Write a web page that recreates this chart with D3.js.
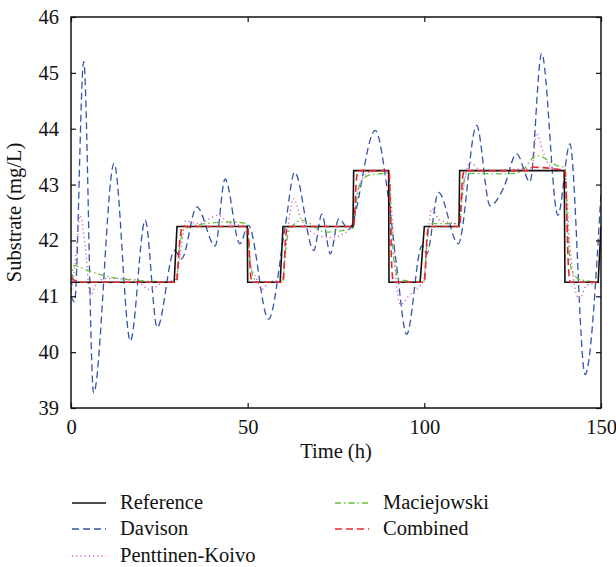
<!DOCTYPE html>
<html>
<head>
<meta charset="utf-8">
<script src="https://cdn.jsdelivr.net/npm/d3@7"></script>
<style>
  body { margin: 0; background: #fff; }
</style>
</head>
<body>
<svg id="chart" width="616" height="567" font-family="'Liberation Serif', serif"></svg>
<script>
// values: [time (h), substrate (mg/L)]
const reference = [[0,41.25],[29.2,41.25],[30,42.25],[49.9,42.25],[50,41.25],[59.2,41.25],[60,42.25],
  [79.8,42.25],[80,43.25],[89.9,43.25],[90,41.25],[98.8,41.25],[100,42.25],[109.8,42.25],[110,43.25],
  [139.6,43.25],[139.8,41.25],[149.2,41.25],[150,42.25]];

const davison = [[0,41.0],[1,40.9],[3.6,45.2],[6.4,39.27],[12.2,43.38],[16.8,40.2],[21.0,42.36],[24.4,40.44],
  [29.3,41.82],[31.3,41.67],[35.6,42.6],[40.8,41.9],[43.6,43.1],[47.8,41.94],[50.2,42.27],[55.9,40.59],
  [60.6,42.24],[63.3,43.22],[68.7,41.82],[71.0,42.47],[73.4,41.76],[75.8,42.39],[78.6,42.2],[86.1,43.97],
  [89.8,42.77],[92.2,41.52],[95.0,40.32],[99.3,41.9],[100.7,41.76],[104.0,42.86],[109.6,41.94],[114.8,44.06],
  [118.6,42.62],[122.5,42.95],[126.1,43.55],[129.9,43.05],[133.2,45.35],[137.8,42.45],[141.2,43.73],
  [145.5,39.6],[150,42.85]];

const penttinen = [[0,41.05],[1.2,41.6],[2.6,42.45],[4.0,41.9],[5.5,41.0],[7,41.2],[10,41.32],[18,41.3],
  [22.3,41.12],[26,41.25],[29.5,41.3],[31,41.8],[32.5,42.35],[36,42.3],[41.7,42.45],[45,42.3],[49.8,42.25],
  [50.7,41.6],[52.6,41.3],[54,41.12],[56,41.25],[59.8,41.3],[61.2,42.1],[63.0,42.75],[65,42.4],[67.3,42.18],
  [73.4,42.05],[79.8,42.25],[81,42.85],[84.3,43.22],[88,43.25],[89.9,43.2],[90.8,42.5],[92.2,41.16],
  [93.3,40.85],[95.5,41.0],[99.8,41.3],[101,42.1],[102.1,42.57],[104.4,42.36],[109.8,42.3],[111,42.9],
  [112.9,43.4],[116,43.25],[130.4,43.3],[131.8,43.92],[133.5,43.6],[136,43.3],[139.7,43.25],[141.2,41.9],
  [143.8,40.95],[146,41.2],[150,41.25]];

const maciejowski = [[0,41.05],[0.8,41.55],[4,41.48],[11.4,41.34],[20,41.28],[29.8,41.25],[30.8,41.9],
  [32,42.2],[36,42.28],[45,42.33],[49.9,42.3],[50.6,41.7],[51.6,41.35],[53,41.25],[59.8,41.25],[60.8,41.9],
  [62,42.2],[65.4,42.36],[72,42.15],[79.8,42.22],[80.8,42.7],[82,43.05],[85,43.18],[89.9,43.2],[90.6,42.3],
  [91.5,41.6],[93,41.3],[99.8,41.25],[100.8,42.0],[102,42.3],[109.8,42.3],[110.8,42.9],[112,43.2],
  [122,43.19],[127,43.22],[131.8,43.52],[137.5,43.34],[139.8,43.3],[140.5,42.3],[141.7,41.46],[144,41.3],
  [150,41.25]];

const combined = [[0,41.35],[2,41.25],[29.8,41.25],[30.8,42.0],[31.5,42.25],[50,42.25],[50.8,41.4],
  [51.3,41.25],[60,41.25],[60.8,42.1],[61.3,42.25],[80,42.25],[80.8,43.1],[81.3,43.25],[90,43.25],
  [90.8,41.5],[91.3,41.25],[100,41.25],[100.8,42.1],[101.3,42.25],[110,42.25],[110.8,43.1],[111.3,43.25],
  [129,43.25],[130.3,43.31],[139.8,43.25],[140.8,41.5],[141.3,41.25],[150,41.25]];

const xTicks = [0, 50, 100, 150];
const yTicks = [39, 40, 41, 42, 43, 44, 45, 46];

const series = [
  {name: "Reference", data: reference, color: "#111111", dash: null, width: 1.6, curve: d3.curveLinear},
  {name: "Davison", data: davison, color: "#3156ad", dash: "7,4", width: 1.3, curve: d3.curveMonotoneX},
  {name: "Penttinen-Koivo", data: penttinen, color: "#cc5fc2", dash: "1.2,3", width: 1.4, curve: d3.curveMonotoneX},
  {name: "Maciejowski", data: maciejowski, color: "#6cbf3c", dash: "6,3,1.5,3", width: 1.3, curve: d3.curveMonotoneX},
  {name: "Combined", data: combined, color: "#e8262a", dash: "7,4", width: 1.6, curve: d3.curveMonotoneX}
];

const FONT = "'Liberation Serif', serif", FS = "20.5px";

const svg = d3.select("#chart");
const m = {left: 71, right: 15, top: 17, bottom: 159};
const W = 616 - m.left - m.right, H = 567 - m.top - m.bottom;

const x = d3.scaleLinear().domain([0, 150]).range([0, W]);
const y = d3.scaleLinear().domain([39, 46]).range([H, 0]);

const g = svg.append("g").attr("transform", `translate(${m.left},${m.top})`);

svg.append("defs").append("clipPath").attr("id", "clip")
  .append("rect").attr("width", W).attr("height", H);

const plot = g.append("g").attr("clip-path", "url(#clip)");
const line = d3.line().x(d => x(d[0])).y(d => y(d[1]));

// back to front: Davison, Penttinen, Maciejowski, Reference, Combined
[1, 2, 3, 0, 4].forEach(i => {
  const s = series[i];
  plot.append("path")
    .datum(s.data)
    .attr("d", line.curve(s.curve))
    .attr("fill", "none")
    .attr("stroke", s.color)
    .attr("stroke-width", s.width)
    .attr("stroke-dasharray", s.dash);
});

const txt = sel => sel.attr("font-family", FONT).style("font-family", FONT)
  .style("font-size", FS).attr("fill", "#111");

const styleAxis = sel => {
  sel.attr("font-family", FONT).attr("font-size", FS);
  sel.select(".domain").remove();
  sel.selectAll("line").attr("stroke", "#111").attr("stroke-width", 1.2);
  sel.selectAll("text").call(txt);
};

g.append("g").attr("transform", `translate(0,${H})`)
  .call(d3.axisBottom(x).tickValues(xTicks).tickFormat(d3.format("d")).tickSizeInner(-5).tickSizeOuter(0).tickPadding(11))
  .call(styleAxis);
g.append("g")
  .call(d3.axisTop(x).tickValues(xTicks).tickSizeInner(-5).tickSizeOuter(0).tickFormat(""))
  .call(styleAxis);
g.append("g")
  .call(d3.axisLeft(y).tickValues(yTicks).tickFormat(d3.format("d")).tickSizeInner(-5).tickSizeOuter(0).tickPadding(12))
  .call(styleAxis);
g.append("g").attr("transform", `translate(${W},0)`)
  .call(d3.axisRight(y).tickValues(yTicks).tickSizeInner(-5).tickSizeOuter(0).tickFormat(""))
  .call(styleAxis);

g.append("rect").attr("width", W).attr("height", H)
  .attr("fill", "none").attr("stroke", "#111").attr("stroke-width", 1.5);

g.append("text").attr("x", W / 2).attr("y", H + 50)
  .attr("text-anchor", "middle").call(txt).text("Time (h)");

g.append("text").attr("transform", `translate(-50,${H / 2}) rotate(-90)`)
  .attr("text-anchor", "middle").call(txt).text("Substrate (mg/L)");

// legend: two columns
const legendPos = [[72, 503], [72, 529], [72, 556], [335, 503], [335, 529]];
series.forEach((s, i) => {
  const [lx, ly] = legendPos[i];
  const item = svg.append("g").attr("transform", `translate(${lx},${ly})`);
  item.append("line").attr("x1", 0).attr("x2", 34).attr("y1", 0).attr("y2", 0)
    .attr("stroke", s.color).attr("stroke-width", s.width).attr("stroke-dasharray", s.dash);
  item.append("text").attr("x", 48).attr("y", 6).call(txt).text(s.name);
});
</script>
</body>
</html>
